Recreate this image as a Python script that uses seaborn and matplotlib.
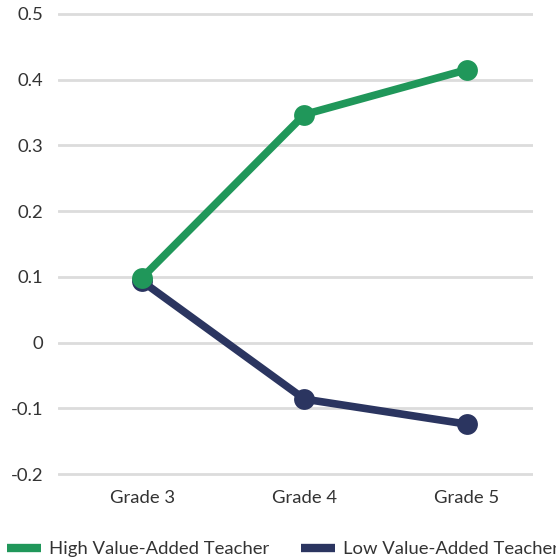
import pandas as pd
import matplotlib.pyplot as plt
import seaborn as sns
from matplotlib.lines import Line2D

grades = ["Grade 3", "Grade 4", "Grade 5"]
high_va = [0.099, 0.347, 0.415]
low_va = [0.093, -0.086, -0.124]
series_names = ["High Value-Added Teacher", "Low Value-Added Teacher"]
colors = ["#20975a", "#2b3560"]

df = pd.DataFrame({
    "grade": grades * 2,
    "value": high_va + low_va,
    "teacher": [series_names[0]] * 3 + [series_names[1]] * 3,
})

sns.set_style("white")
plt.rcParams["font.family"] = ["Lato", "DejaVu Sans"]

fig = plt.figure(figsize=(5.56, 5.58), dpi=100)
# axes placed so gridlines run from x=58 to 533 px
ax = fig.add_axes([58 / 556, 1 - 480.6 / 558, 475 / 556, (480.6 - 7.4) / 558])

# draw low first so high sits on top at Grade 3
sns.lineplot(data=df, x="grade", y="value", hue="teacher",
             hue_order=series_names[::-1], palette=colors[::-1],
             marker="o", markersize=15, markeredgewidth=0,
             linewidth=5.5, legend=False, ax=ax, zorder=3)

ax.set_xlim(-0.52, 2.41)
ax.set_ylim(-0.21, 0.51)
ax.set_yticks([-0.2, -0.1, 0, 0.1, 0.2, 0.3, 0.4, 0.5])
ax.set_yticklabels(["-0.2", "-0.1", "0", "0.1", "0.2", "0.3", "0.4", "0.5"])
ax.yaxis.grid(True, color="#dcdcdc", linewidth=2)
ax.set_axisbelow(True)
for s in ax.spines.values():
    s.set_visible(False)
ax.set_xlabel("")
ax.set_ylabel("")
ax.tick_params(axis="y", length=0, pad=10.8, labelsize=13.3, labelcolor="#333333")
ax.tick_params(axis="x", length=0, pad=7, labelsize=13.3, labelcolor="#333333")

handles = [Line2D([0], [0], color=c, linewidth=6, solid_capstyle="butt") for c in colors]
fig.legend(handles, series_names, loc="center left", bbox_to_anchor=(0.012, 1 - 549 / 558),
           ncol=2, frameon=False, fontsize=13.3, handlelength=1.85, handletextpad=0.45,
           columnspacing=1.7, labelcolor="#333333", borderaxespad=0, borderpad=0)

plt.savefig("out.png", dpi=100)
